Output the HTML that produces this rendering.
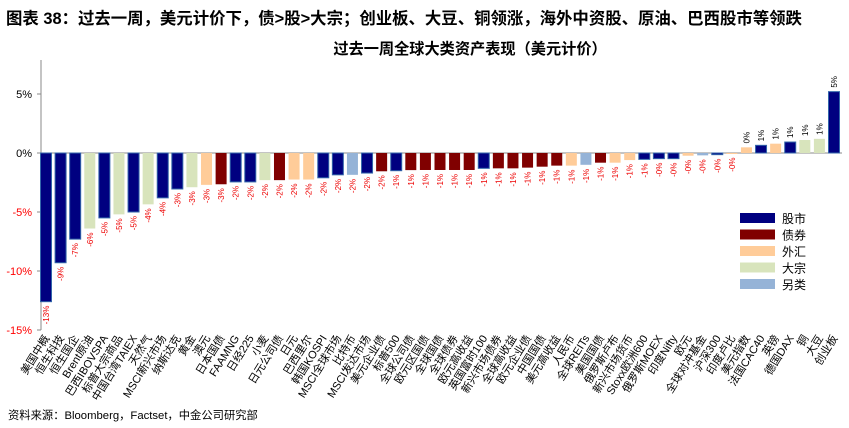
<!DOCTYPE html>
<html><head><meta charset="utf-8"><style>
body{margin:0;background:#fff;}
svg{display:block;font-family:"Liberation Sans","Noto Sans CJK SC",sans-serif;}
</style></head><body>
<svg id="chart" width="849" height="428" viewBox="0 0 849 428">
<text x="6" y="24" font-size="16.4" font-weight="bold" fill="#000">图表 38：过去一周，美元计价下，债&gt;股&gt;大宗；创业板、大豆、铜领涨，海外中资股、原油、巴西股市等领跌</text>
<text x="470" y="54" font-size="15.2" font-weight="bold" text-anchor="middle" fill="#000">过去一周全球大类资产表现（美元计价）</text>
<text x="8" y="419" font-size="11.3" fill="#000">资料来源：Bloomberg，Factset，中金公司研究部</text>
<g id="plot"></g>
</svg>
<script>
const categories=["美国中概","恒生科技","恒生国企","Brent原油","巴西IBOVSPA","标普大宗商品","中国台湾TAIEX","天然气","MSCI新兴市场","纳斯达克","黄金","澳元","日本国债","FAAMNG","日经225","小麦","日元公司债","日元","巴西里尔","韩国KOSPI","MSCI全球市场","比特币","MSCI发达市场","美元企业债","标普500","全球公司债","欧元区国债","全球国债","全球债券","欧元高收益","英国富时100","新兴市场债券","全球高收益","欧元企业债","中国国债","美元高收益","人民币","全球REITs","美国国债","俄罗斯卢布","新兴市场货币","Stoxx欧洲600","俄罗斯MOEX","印度Nifty","欧元","全球对冲基金","沪深300","印度卢比","美元指数","法国CAC40","英镑","德国DAX","铜","大豆","创业板"];
const values=[-12.6,-9.3,-7.3,-6.4,-5.5,-5.2,-5.0,-4.35,-3.8,-3.05,-2.9,-2.7,-2.65,-2.45,-2.45,-2.3,-2.3,-2.25,-2.25,-2.1,-1.85,-1.85,-1.7,-1.55,-1.5,-1.45,-1.44,-1.44,-1.44,-1.44,-1.3,-1.3,-1.3,-1.24,-1.16,-1.07,-1.07,-1.0,-0.82,-0.82,-0.6,-0.54,-0.48,-0.48,-0.23,-0.2,-0.14,-0.04,0.48,0.65,0.79,0.93,1.1,1.2,5.2];
const classes=["股市","股市","股市","大宗","股市","大宗","股市","大宗","股市","股市","大宗","外汇","债券","股市","股市","大宗","债券","外汇","外汇","股市","股市","另类","股市","债券","股市","债券","债券","债券","债券","债券","股市","债券","债券","债券","债券","债券","外汇","另类","债券","外汇","外汇","股市","股市","股市","外汇","另类","股市","外汇","外汇","股市","外汇","股市","大宗","大宗","股市"];
const legendNames=["股市","债券","外汇","大宗","另类"];
const yTicks=[5,0,-5,-10,-15];
const colors={"股市":"#000080","债券":"#800000","外汇":"#FFCC99","大宗":"#D8E4BC","另类":"#95B3D7"};
const NS="http://www.w3.org/2000/svg";
const g=document.getElementById("plot");
const x0=46,step=(834-46)/(categories.length-1),bw=11;
function y(v){return 153-v*11.8;}
function xc(i){return x0+i*step;}
function mk(tag,attrs,parent){const e=document.createElementNS(NS,tag);for(const k in attrs)e.setAttribute(k,attrs[k]);(parent||g).appendChild(e);return e;}
const ax=mk("line",{x1:41,y1:60,x2:41,y2:y(-15),stroke:"#888","stroke-width":1});


yTicks.forEach(t=>{
  const tk=mk("line",{x1:37,x2:41,y1:y(t),y2:y(t),stroke:"#888"});
  
  
  const tl=mk("text",{x:32,y:y(t)+4,"font-size":11,"text-anchor":"end",fill:t<0?"#ff0000":"#000"});
  tl.textContent=t+"%";
  
  
});
const zl=mk("line",{x1:41,x2:842,y1:y(0),y2:y(0),stroke:"#888"});


categories.forEach((c,i)=>{
  const v=values[i],cx=xc(i);
  const top=Math.min(y(v),y(0)),h=Math.max(Math.abs(y(v)-y(0)),1);
  const col=colors[classes[i]];
  const r=mk("rect",{x:cx-bw/2,y:top,width:bw,height:h,fill:col,stroke:col==="#000080"?"#3366aa":"none","stroke-width":1});
  
  
  const lv=Math.round(v);
  const ly=v<0?y(v)+4:y(v)-4;
  const t=mk("text",{x:0,y:0,"font-size":8,fill:v<0?"#ee0000":"#000","text-anchor":v<0?"end":"start",transform:`translate(${cx+3},${ly}) rotate(-90)`});
  t.textContent=(lv===0&&v<0?"-0":lv)+"%";
  
  
  const xl=mk("text",{x:0,y:0,"font-size":11,fill:"#000","text-anchor":"end",transform:`translate(${cx+4},${338}) rotate(-58)`});
  xl.textContent=c;
  
  
});
legendNames.forEach((n,i)=>{
  const yy=213+i*16.5;
  const s=mk("rect",{x:740,y:yy,width:35,height:10,fill:colors[n]});
  
  
  const t=mk("text",{x:782,y:yy+10,"font-size":12,fill:"#000"});
  t.textContent=n;
  
  
});
</script>
</body></html>
